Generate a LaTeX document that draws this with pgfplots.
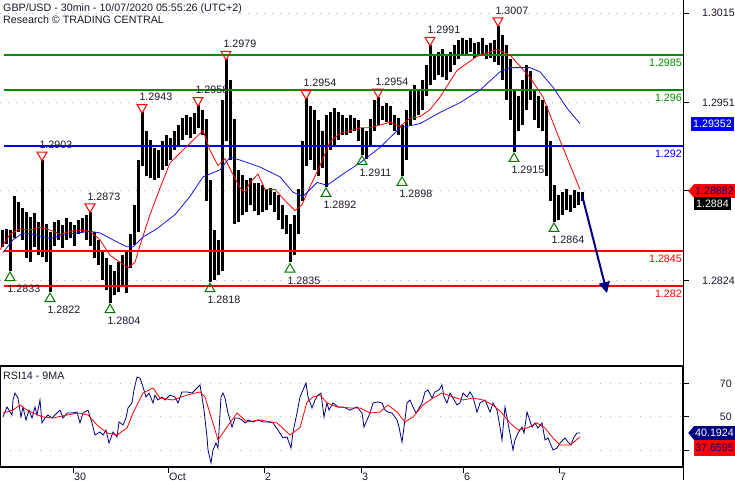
\documentclass[border=0pt]{standalone}
\usepackage{fontspec}
\setmainfont{Liberation Sans}
\usepackage{pgfplots}
\pgfplotsset{compat=1.18}
\usepackage{pgfplotstable}
\usetikzlibrary{arrows.meta,shapes.symbols}

\definecolor{lvlgreen}{RGB}{0,140,0}
\definecolor{trigreen}{RGB}{0,120,0}
\definecolor{lvlblue}{RGB}{0,0,255}
\definecolor{lvlred}{RGB}{255,0,0}
\definecolor{mablue}{RGB}{20,20,230}
\definecolor{navy}{RGB}{0,0,128}
\definecolor{gridgray}{RGB}{180,180,180}
\definecolor{txt}{RGB}{30,20,40}

% 30min bars (x = chart position, low / high)
\pgfplotstableread{
x lo hi
2 1.2848 1.2860
6 1.2850 1.2861
10 1.2831 1.2860
14 1.2854 1.2884
18 1.2859 1.2880
22 1.2853 1.2876
26 1.2840 1.2873
30 1.2837 1.2869
34 1.2848 1.2872
38 1.2842 1.2866
42 1.2841 1.2910
46 1.2837 1.2864
50 1.2816 1.2859
54 1.2849 1.2866
58 1.2853 1.2867
62 1.2847 1.2864
66 1.2853 1.2869
70 1.2854 1.2866
74 1.2849 1.2864
78 1.2857 1.2867
82 1.2859 1.2869
86 1.2853 1.2871
90 1.2849 1.2873
94 1.2840 1.2859
98 1.2835 1.2853
102 1.2824 1.2846
106 1.2817 1.2840
110 1.2808 1.2835
114 1.2814 1.2831
118 1.2816 1.2837
122 1.2821 1.2842
126 1.2815 1.2846
130 1.2833 1.2857
134 1.2849 1.2878
138 1.2859 1.2910
142 1.2906 1.2944
146 1.2899 1.2931
150 1.2897 1.2924
154 1.2896 1.2919
158 1.2897 1.2917
162 1.2903 1.2924
166 1.2906 1.2928
170 1.2910 1.2926
174 1.2917 1.2931
178 1.2919 1.2935
182 1.2924 1.2940
186 1.2928 1.2942
190 1.2926 1.2941
194 1.2929 1.2944
198 1.2933 1.2949
202 1.2928 1.2946
206 1.2881 1.2939
210 1.2823 1.2896
214 1.2824 1.2860
218 1.2828 1.2853
222 1.2831 1.2953
226 1.2924 1.2982
230 1.2910 1.2967
234 1.2864 1.2939
238 1.2866 1.2903
242 1.2871 1.2899
246 1.2873 1.2896
250 1.2878 1.2897
254 1.2874 1.2894
258 1.2871 1.2894
262 1.2873 1.2892
266 1.2874 1.2889
270 1.2878 1.2890
274 1.2873 1.2887
278 1.2867 1.2885
282 1.2861 1.2878
286 1.2857 1.2871
290 1.2837 1.2864
294 1.2842 1.2871
298 1.2857 1.2889
302 1.2881 1.2924
306 1.2906 1.2954
310 1.2910 1.2949
314 1.2903 1.2946
318 1.2899 1.2939
322 1.2904 1.2931
326 1.2891 1.2942
330 1.2917 1.2944
334 1.2921 1.2947
338 1.2924 1.2944
342 1.2928 1.2942
346 1.2928 1.2940
350 1.2929 1.2942
354 1.2931 1.2940
358 1.2924 1.2939
362 1.2914 1.2933
366 1.2911 1.2931
370 1.2921 1.2939
374 1.2931 1.2953
378 1.2935 1.2955
382 1.2939 1.2949
386 1.2937 1.2951
390 1.2935 1.2949
394 1.2931 1.2942
398 1.2928 1.2940
402 1.2899 1.2935
406 1.2910 1.2946
410 1.2935 1.2960
414 1.2939 1.2964
418 1.2942 1.2961
422 1.2946 1.2967
426 1.2956 1.2978
430 1.2964 1.2992
434 1.2967 1.2985
438 1.2971 1.2987
442 1.2969 1.2989
446 1.2967 1.2985
450 1.2973 1.2987
454 1.2978 1.2992
458 1.2982 1.2996
462 1.2985 1.2997
466 1.2984 1.2996
470 1.2987 1.2997
474 1.2983 1.2994
478 1.2985 1.2994
482 1.2985 1.2997
486 1.2982 1.2992
490 1.2983 1.2994
494 1.2980 1.2996
498 1.2978 1.3006
502 1.2967 1.2999
506 1.2953 1.2992
510 1.2939 1.2982
514 1.2916 1.2960
518 1.2931 1.2956
522 1.2935 1.2967
526 1.2946 1.2978
530 1.2953 1.2974
534 1.2939 1.2960
538 1.2933 1.2956
542 1.2931 1.2953
546 1.2899 1.2949
550 1.2881 1.2924
554 1.2866 1.2892
558 1.2867 1.2885
562 1.2871 1.2887
566 1.2874 1.2889
570 1.2873 1.2885
574 1.2876 1.2889
578 1.2878 1.2887
582 1.2881 1.2887
}\bars

\begin{document}
\begin{tikzpicture}[x=1pt, y=1pt, font=\fontsize{10.7}{12.8}\selectfont]

% ---------- price panel ----------
\begin{axis}[
    at={(0pt,114pt)}, anchor=south west,
    scale only axis, width=683pt, height=366pt,
    xmin=0, xmax=683, ymin=1.27629, ymax=1.30243,
    axis x line=none, axis y line*=right,
    axis line style={black, line width=1pt},
    ytick={1.2824,1.2888,1.2951,1.3015},
    yticklabels={1.2824,,1.2951,1.3015},
    tick align=outside, major tick length=6pt,
    tick style={black, line width=1pt},
    yticklabel style={anchor=east, inner sep=0pt, xshift=46pt, text=txt},
    ymajorgrids,
    grid style={gridgray, line width=1pt, dash pattern=on 1pt off 7pt},
    clip=false,
]
% bars
\addplot[draw=none, mark=none,
    error bars/.cd, y dir=both, y explicit, error mark=none,
    error bar style={draw=black, line width=3pt}]
    table[x=x, y expr={(\thisrow{lo}+\thisrow{hi})/2},
          y error expr={(\thisrow{hi}-\thisrow{lo})/2}] {\bars};

% levels
\addplot[lvlgreen, line width=2.2pt] coordinates {(4,1.2985) (683,1.2985)};
\addplot[lvlgreen, line width=2.2pt] coordinates {(4,1.2960) (683,1.2960)};
\addplot[lvlblue, line width=2.2pt] coordinates {(4,1.2920) (683,1.2920)};
\addplot[lvlred, line width=2.2pt] coordinates {(4,1.2845) (683,1.2845)};
\addplot[lvlred, line width=2.2pt] coordinates {(4,1.2820) (683,1.2820)};
\node[anchor=north east, inner sep=0pt, text=lvlgreen, yshift=-3.5pt] at (axis cs:682,1.2985) {1.2985};
\node[anchor=north east, inner sep=0pt, text=lvlgreen, yshift=-3.5pt] at (axis cs:682,1.2960) {1.296};
\node[anchor=north east, inner sep=0pt, text=lvlblue, yshift=-3.5pt] at (axis cs:682,1.2920) {1.292};
\node[anchor=north east, inner sep=0pt, text=lvlred, yshift=-3.5pt] at (axis cs:682,1.2845) {1.2845};
\node[anchor=north east, inner sep=0pt, text=lvlred, yshift=-3.5pt] at (axis cs:682,1.2820) {1.282};

% moving averages
\addplot[lvlred, line width=0.8pt] coordinates {
(0,1.2846) (10,1.2857) (20,1.2861) (30,1.2860) (40,1.2862) (50,1.2860)
(60,1.2857) (70,1.2859) (80,1.2860) (90,1.2859) (100,1.2853) (110,1.2842)
(120,1.2837) (128,1.2833) (135,1.2837) (140,1.2849) (150,1.2871) (160,1.2890)
(170,1.2908) (180,1.2915) (190,1.2922) (200,1.2929) (203,1.2931) (210,1.2917)
(218,1.2906) (225,1.2911) (232,1.2901) (240,1.2890) (245,1.2887) (250,1.2894)
(258,1.2900) (265,1.2889) (275,1.2889) (285,1.2881) (295,1.2874) (302,1.2878)
(310,1.2891) (320,1.2906) (330,1.2923) (340,1.2929) (350,1.2931) (360,1.2933)
(370,1.2933) (380,1.2935) (390,1.2937) (400,1.2934) (410,1.2940) (420,1.2941)
(430,1.2946) (440,1.2955) (457,1.2974) (477,1.2984) (497,1.2989) (510,1.2985)
(530,1.2969) (543,1.2955) (560,1.2924) (580,1.2889)
};
\addplot[mablue, line width=0.8pt] coordinates {
(3,1.2844) (13,1.2853) (23,1.2858) (33,1.2857) (50,1.2854) (67,1.2857)
(90,1.2859) (100,1.2858) (113,1.2853) (127,1.2848) (133,1.2848) (143,1.2855)
(157,1.2861) (175,1.2871) (190,1.2884) (203,1.2898) (220,1.2903) (230,1.2912)
(240,1.2910) (260,1.2905) (280,1.2898) (293,1.2887) (303,1.2884) (317,1.2894)
(327,1.2892) (345,1.2901) (360,1.2908) (380,1.2919) (400,1.2933) (420,1.2936)
(440,1.2944) (460,1.2951) (480,1.2960) (500,1.2973) (510,1.2976) (530,1.2976)
(540,1.2973) (553,1.2962) (567,1.2947) (580,1.2936)
};

% swing highs
\addplot[only marks, mark=triangle, lvlred, mark size=5.7pt,
    mark options={yshift=5pt, rotate=180, line width=1pt},
    nodes near coords, point meta=explicit symbolic,
    every node near coord/.append style={text=txt, anchor=south west,
        xshift=-3pt, yshift=6pt, inner sep=0pt}]
coordinates {
(42,1.2910) [1.2903] (90,1.2873) [1.2873] (142,1.2944) [1.2943]
(198,1.2949) [1.2958] (226,1.2982) [1.2979] (306,1.2954) [1.2954]
(378,1.2955) [1.2954] (430,1.2992) [1.2991] (498,1.3006) [1.3007]
};
% swing lows
\addplot[only marks, mark=triangle, trigreen, mark size=5.7pt,
    mark options={yshift=-7pt, line width=1pt},
    nodes near coords, point meta=explicit symbolic,
    every node near coord/.append style={text=txt, anchor=north west,
        xshift=-3pt, yshift=-7pt, inner sep=0pt}]
coordinates {
(10,1.2831) [1.2833] (50,1.2816) [1.2822] (110,1.2808) [1.2804]
(210,1.2823) [1.2818] (290,1.2837) [1.2835] (326,1.2891) [1.2892]
(362,1.2914) [1.2911] (402,1.2899) [1.2898] (514,1.2916) [1.2915]
(554,1.2866) [1.2864]
};

% projection arrow
\addplot[navy, line width=2pt, -{Triangle[length=11pt, width=11pt]}]
    coordinates {(582,1.2885) (607,1.2815)};
\end{axis}

% ---------- RSI panel ----------
\begin{axis}[
    at={(0pt,13pt)}, anchor=south west,
    scale only axis, width=683pt, height=101pt,
    xmin=0, xmax=683, ymin=19.7, ymax=80.9,
    axis line style={black, line width=1.1pt},
    ytick={30,50,70}, yticklabels={{},{},{}},
    ytick pos=right, xtick pos=left,
    xtick={73,168,264,361,463,559},
    xticklabels={30,Oct,2,3,6,7},
    tick align=outside, major tick length=6pt,
    tick style={black, line width=1pt},
    xticklabel style={anchor=north west, inner sep=0pt, xshift=1pt, text=txt},
    ymajorgrids,
    grid style={gridgray, line width=1pt, dash pattern=on 1pt off 9pt},
]
\addplot[navy, line width=0.8pt] coordinates {
(3,50.0) (7,56.1) (12,51.2) (13,60.3) (15,64.5) (18,61.5) (21,50.0) (23,56.0)
(26,48.2) (29,54.2) (32,49.4) (35,56.0) (37,51.2) (40,60.3) (42,46.4) (45,49.4)
(48,51.2) (52,49.4) (55,51.2) (60,54.2) (63,49.4) (67,52.4) (72,52.4) (77,53.0)
(80,46.4) (83,52.4) (88,54.2) (92,46.4) (95,39.1) (100,40.9) (103,39.1) (106,42.1)
(109,34.2) (113,40.9) (117,37.9) (119,47.0) (123,45.2) (126,49.4) (128,55.5)
(132,58.5) (134,66.4) (137,74.2) (140,73.6) (143,68.2) (146,62.1) (149,64.5)
(153,58.5) (155,63.3) (158,60.3) (162,62.1) (165,60.3) (170,63.3) (175,62.1)
(178,58.5) (182,65.2) (187,65.2) (192,64.5) (197,67.6) (200,69.4) (202,62.1)
(204,54.2) (207,37.9) (208,30.0) (211,22.1) (213,30.0) (216,34.2) (218,31.2)
(221,62.1) (223,64.5) (225,61.5) (228,52.4) (232,43.9) (235,49.4) (238,49.4)
(242,48.2) (245,46.4) (248,48.2) (253,47.0) (258,48.2) (263,47.0) (268,47.0)
(273,46.4) (278,42.1) (283,37.3) (287,37.9) (291,31.2) (293,40.9) (297,52.4)
(300,62.1) (303,66.4) (306,70.6) (308,62.1) (312,55.5) (315,60.3) (318,63.3)
(321,64.5) (324,50.0) (327,58.5) (329,54.2) (333,58.5) (338,56.1) (343,56.1)
(350,54.2) (357,56.1) (362,52.4) (364,43.9) (367,48.2) (370,52.4) (373,58.5)
(378,59.1) (382,58.5) (385,54.2) (388,53.0) (392,52.4) (397,48.2) (399,43.9)
(402,34.8) (404,43.9) (407,58.5) (410,60.3) (413,56.1) (416,52.4) (418,54.2)
(422,58.5) (425,65.2) (428,66.4) (432,61.5) (435,65.2) (439,66.4) (442,69.4)
(444,62.1) (447,58.5) (450,64.5) (453,61.5) (457,57.3) (460,58.5) (463,64.5)
(467,62.1) (470,65.2) (473,62.1) (477,53.0) (480,58.5) (485,60.3) (490,53.0)
(493,58.5) (497,54.2) (500,43.9) (502,36.1) (505,56.1) (508,46.4) (513,30.0)
(515,36.1) (518,40.3) (522,43.9) (524,40.3) (527,53.0) (529,49.4) (532,43.9)
(535,46.4) (538,43.3) (542,46.4) (545,36.1) (548,37.3) (553,30.0) (557,31.2)
(560,34.2) (565,37.3) (568,34.8) (571,33.0) (574,37.9) (577,40.3) (580,40.3)
};
\addplot[lvlred, line width=0.8pt] coordinates {
(3,52.4) (13,54.2) (20,57.3) (27,54.2) (33,52.4) (43,50.0) (53,49.4) (67,51.2)
(78,52.4) (88,51.2) (97,45.2) (107,40.3) (117,39.1) (127,43.3) (133,52.4)
(143,64.5) (153,67.6) (160,61.5) (173,60.3) (187,63.3) (200,65.2) (205,62.1)
(212,48.2) (218,36.1) (227,43.9) (237,52.4) (247,47.0) (260,48.2) (277,46.4)
(290,39.1) (300,43.6) (307,59.1) (313,62.1) (320,63.3) (327,58.5) (337,56.1)
(350,55.5) (360,55.5) (370,52.4) (380,53.0) (388,57.3) (397,53.0) (405,47.0)
(413,50.0) (423,57.3) (433,61.5) (442,64.5) (453,62.1) (463,60.3) (473,61.5)
(483,60.3) (493,57.3) (502,52.4) (510,46.4) (518,42.1) (527,43.3) (537,46.4)
(545,43.3) (553,37.3) (560,33.0) (570,33.0) (580,37.9)
};
\end{axis}

% frame line on the right and headers
\draw[black, line width=1pt] (683pt,0pt) -- (683pt,480pt);
\node[anchor=base west, inner sep=0pt, text=txt] at (3pt,468.5pt) {GBP/USD - 30min - 10/07/2020 05:55:26 (UTC+2)};
\node[anchor=base west, inner sep=0pt, text=txt] at (3pt,456.5pt) {Research © TRADING CENTRAL};
\node[anchor=base west, inner sep=0pt, text=txt] at (3pt,101pt) {RSI14 - 9MA};

% RSI scale labels (30 is hidden behind the value flag)
\node[anchor=east, inner sep=0pt, text=txt] at (732pt,96pt) {70};
\node[anchor=east, inner sep=0pt, text=txt] at (732pt,63pt) {50};

% last-value flags
\node[fill=lvlblue, text=white, anchor=east, inner xsep=2pt, inner ysep=0pt, minimum height=14pt] at (734pt,356pt) {1.29352};
\node[signal, signal to=west, signal pointer angle=100, fill=lvlred, text=navy, anchor=east, inner xsep=1pt, inner ysep=0pt, minimum height=14pt] at (735pt,289pt) {1.28882};
\node[fill=black, text=white, anchor=east, inner xsep=2pt, inner ysep=0pt, minimum height=13pt] at (731pt,276.5pt) {1.2884};
\node[signal, signal to=west, signal pointer angle=100, fill=navy, text=white, anchor=east, inner xsep=1pt, inner ysep=0pt, minimum height=14pt] at (735pt,47pt) {40.1924};
\node[fill=lvlred, text=navy, anchor=east, inner xsep=1pt, inner ysep=0pt, minimum height=16pt] at (735pt,32pt) {37.6595};

\pgfresetboundingbox
\path[use as bounding box] (0pt,0pt) rectangle (735pt,480pt);
\end{tikzpicture}
\end{document}
